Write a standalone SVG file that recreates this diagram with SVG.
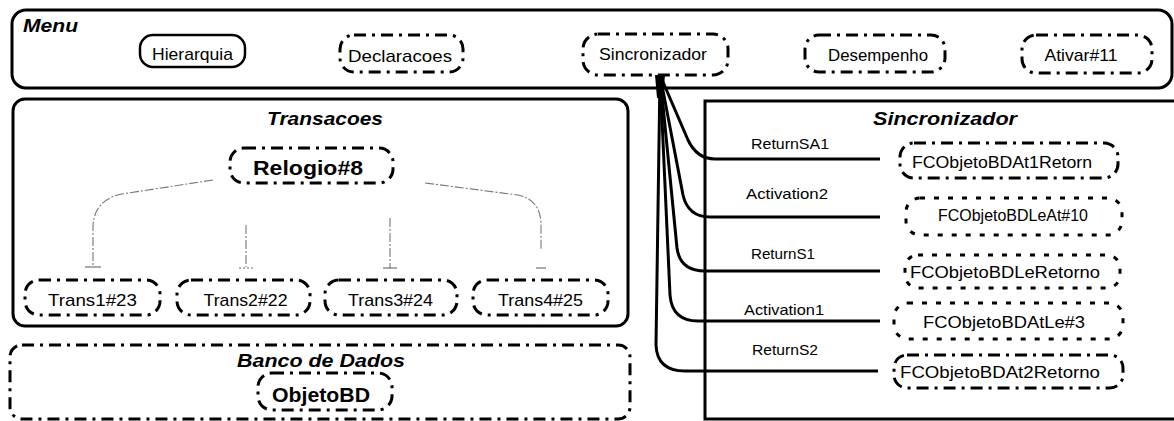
<svg xmlns="http://www.w3.org/2000/svg" width="1174" height="421" viewBox="0 0 1174 421">
  <style>
    .frame { fill: none; stroke: #000; stroke-width: 3; }
    .solid { fill: #fff; stroke: #000; stroke-width: 2.5; }
    .dashdot { fill: #fff; stroke: #000; stroke-width: 3; stroke-dasharray: 12 6 3 6; }
    .dotted { fill: #fff; stroke: #000; stroke-width: 3; stroke-dasharray: 5 9; }
    .wire { fill: none; stroke: #000; stroke-width: 3; }
    .thin { fill: none; stroke: #777; stroke-width: 1.1; stroke-dasharray: 9 2 2 2; }
    .bar { stroke: #666; stroke-width: 1.1; }
    .lbl { font-family: "Liberation Sans", Arial, sans-serif; font-size: 17px; fill: #000; }
    .elbl { font-family: "Liberation Sans", Arial, sans-serif; font-size: 15px; fill: #000; }
    .bold { font-family: "Liberation Sans", Arial, sans-serif; font-size: 20px; font-weight: bold; fill: #000; }
    .title { font-family: "Liberation Sans", Arial, sans-serif; font-size: 18px; font-weight: bold; font-style: italic; fill: #000; }
  </style>

  <rect width="1174" height="421" fill="#fff"/>

  <!-- Menu container -->
  <g id="menu">
    <rect class="frame" x="12" y="10" width="1160" height="78" rx="14"/>
    <text class="title" x="23" y="32" textLength="55" lengthAdjust="spacingAndGlyphs">Menu</text>
  </g>
  <g id="hierarquia">
    <rect class="solid" x="140" y="35" width="105" height="32" rx="13"/>
    <text class="lbl" x="192.5" y="60" text-anchor="middle" textLength="81" lengthAdjust="spacingAndGlyphs">Hierarquia</text>
  </g>
  <g id="declaracoes">
    <rect class="dashdot" x="340" y="35" width="123" height="37" rx="14"/>
    <text class="lbl" x="400" y="62" text-anchor="middle" textLength="104" lengthAdjust="spacingAndGlyphs">Declaracoes</text>
  </g>
  <g id="sincronizador-menu">
    <rect class="dashdot" x="583" y="34" width="145" height="41" rx="15"/>
    <text class="lbl" x="653" y="60" text-anchor="middle" textLength="108" lengthAdjust="spacingAndGlyphs">Sincronizador</text>
  </g>
  <g id="desempenho">
    <rect class="dashdot" x="805" y="35" width="140" height="37" rx="14"/>
    <text class="lbl" x="878" y="61" text-anchor="middle" textLength="100" lengthAdjust="spacingAndGlyphs">Desempenho</text>
  </g>
  <g id="ativar">
    <rect class="dashdot" x="1022" y="35" width="130" height="38" rx="14"/>
    <text class="lbl" x="1081" y="61" text-anchor="middle" textLength="73" lengthAdjust="spacingAndGlyphs">Ativar#11</text>
  </g>

  <!-- Transacoes container -->
  <g id="transacoes">
    <rect class="frame" x="13" y="99" width="615" height="227" rx="12"/>
    <text class="title" x="325" y="125" text-anchor="middle" textLength="116" lengthAdjust="spacingAndGlyphs">Transacoes</text>
  </g>
  <g id="relogio">
    <rect class="dashdot" x="230" y="148" width="163" height="35" rx="14"/>
    <text class="bold" x="308" y="175" text-anchor="middle" textLength="110" lengthAdjust="spacingAndGlyphs">Relogio#8</text>
  </g>
  <g id="trans1">
    <rect class="dashdot" x="25" y="280" width="135" height="35" rx="14"/>
    <text class="lbl" x="92.5" y="306" text-anchor="middle" textLength="89" lengthAdjust="spacingAndGlyphs">Trans1#23</text>
  </g>
  <g id="trans2">
    <rect class="dashdot" x="177" y="280" width="133" height="35" rx="14"/>
    <text class="lbl" x="245.5" y="306" text-anchor="middle" textLength="84" lengthAdjust="spacingAndGlyphs">Trans2#22</text>
  </g>
  <g id="trans3">
    <rect class="dashdot" x="325" y="280" width="132" height="35" rx="14"/>
    <text class="lbl" x="390.5" y="306" text-anchor="middle" textLength="85" lengthAdjust="spacingAndGlyphs">Trans3#24</text>
  </g>
  <g id="trans4">
    <rect class="dashdot" x="473" y="280" width="135" height="35" rx="14"/>
    <text class="lbl" x="540.5" y="306" text-anchor="middle" textLength="85" lengthAdjust="spacingAndGlyphs">Trans4#25</text>
  </g>

  <!-- Banco de Dados container -->
  <g id="banco-de-dados">
    <rect class="dashdot" x="10" y="345" width="620" height="74" rx="12"/>
    <text class="title" x="321" y="367" text-anchor="middle" textLength="168" lengthAdjust="spacingAndGlyphs">Banco de Dados</text>
  </g>
  <g id="objetobd">
    <rect class="dashdot" x="258" y="373" width="134" height="37" rx="14"/>
    <text class="bold" x="321" y="402" text-anchor="middle" textLength="98" lengthAdjust="spacingAndGlyphs">ObjetoBD</text>
  </g>

  <!-- Sincronizador container (open on the right) -->
  <g id="sincronizador">
    <path class="frame" d="M1176,101 H705 V419 H1176"/>
    <text class="title" x="873" y="125" textLength="144" lengthAdjust="spacingAndGlyphs">Sincronizador</text>
  </g>
  <g id="fc-at1-retorn">
    <rect class="dashdot" x="900" y="143" width="218" height="35" rx="14"/>
    <text class="lbl" x="1002" y="168" text-anchor="middle" textLength="180" lengthAdjust="spacingAndGlyphs">FCObjetoBDAt1Retorn</text>
  </g>
  <g id="fc-leat">
    <rect class="dotted" x="906" y="198" width="216" height="37" rx="14"/>
    <text class="lbl" x="1013" y="221" text-anchor="middle" textLength="150" lengthAdjust="spacingAndGlyphs">FCObjetoBDLeAt#10</text>
  </g>
  <g id="fc-le-retorno">
    <rect class="dotted" x="905" y="255" width="215" height="33" rx="13"/>
    <text class="lbl" x="1005" y="278" text-anchor="middle" textLength="190" lengthAdjust="spacingAndGlyphs">FCObjetoBDLeRetorno</text>
  </g>
  <g id="fc-atle">
    <rect class="dotted" x="894" y="303" width="229" height="36" rx="14"/>
    <text class="lbl" x="1004" y="328" text-anchor="middle" textLength="162" lengthAdjust="spacingAndGlyphs">FCObjetoBDAtLe#3</text>
  </g>
  <g id="fc-at2-retorno">
    <rect class="dashdot" x="894" y="355" width="229" height="33" rx="13"/>
    <text class="lbl" x="1000" y="378" text-anchor="middle" textLength="200" lengthAdjust="spacingAndGlyphs">FCObjetoBDAt2Retorno</text>
  </g>

  <!-- Connectors -->
  <g id="connectors">
    <!-- Relogio#8 to the Trans nodes -->
    <path class="thin" d="M213,180 L122,194 Q93,200 93,228 V267"/>
    <line class="bar" x1="85" y1="267" x2="101" y2="267"/>
    <path class="thin" d="M246,225 V267"/>
    <line class="bar" x1="239" y1="268" x2="253" y2="268" stroke-dasharray="2 2"/>
    <path class="thin" d="M390,218 V268"/>
    <line class="bar" x1="383" y1="268" x2="397" y2="268"/>
    <path class="thin" d="M425,183 L518,195 Q541,200 541,225 V250"/>
    <line class="bar" x1="536" y1="268" x2="546" y2="268"/>

    <!-- Sincronizador fan-out -->
    <path d="M655,75 L665,75 L663,98 L657,98 Z" fill="#000"/>
    <path class="wire" d="M660,75 L688,140 Q697,159 715,159 H880"/>
    <path class="wire" d="M660,75 L683,195 Q688,217 710,217 H880"/>
    <path class="wire" d="M660,75 L677,248 Q680,271 705,271 H880"/>
    <path class="wire" d="M660,75 L670,295 Q672,321 698,321 H880"/>
    <path class="wire" d="M660,75 L656,345 Q657,371 685,371 H878"/>

    <text class="elbl" x="751" y="149" textLength="78" lengthAdjust="spacingAndGlyphs">ReturnSA1</text>
    <text class="elbl" x="746" y="199" textLength="82" lengthAdjust="spacingAndGlyphs">Activation2</text>
    <text class="elbl" x="751" y="259" textLength="64" lengthAdjust="spacingAndGlyphs">ReturnS1</text>
    <text class="elbl" x="744" y="315" textLength="80" lengthAdjust="spacingAndGlyphs">Activation1</text>
    <text class="elbl" x="752" y="355" textLength="66" lengthAdjust="spacingAndGlyphs">ReturnS2</text>
  </g>
</svg>
